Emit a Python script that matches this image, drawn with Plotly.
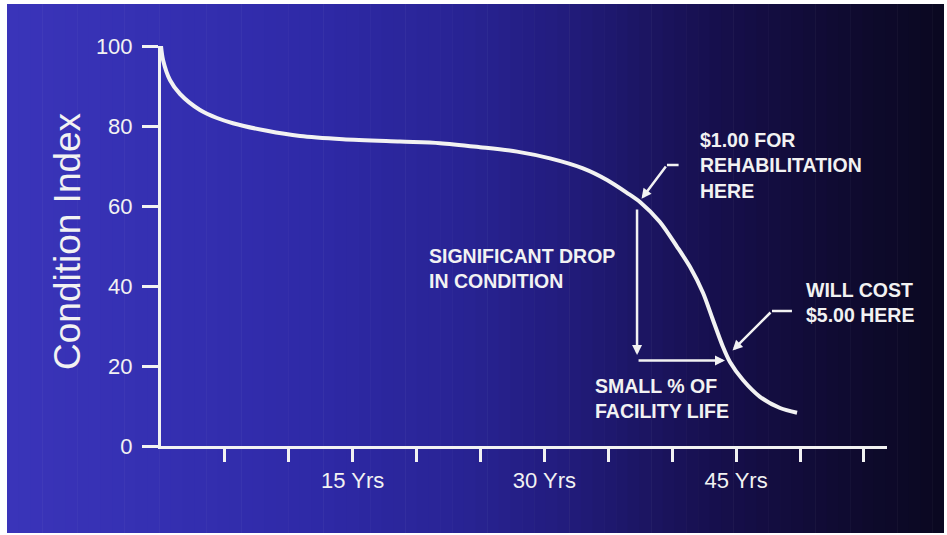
import plotly.graph_objects as go

# ---- data ----
years = [0.0, 0.16, 0.70, 1.49, 3.05, 4.38, 5.63, 8.29, 10.88, 14.24, 18.70, 21.83,
         24.96, 27.86, 30.44, 33.02, 34.90, 36.46, 37.48, 39.04, 40.38, 41.39, 42.41,
         43.19, 43.97, 44.52, 45.54, 46.87, 48.44, 49.77]
condition = [100.0, 96.5, 91.5, 88.0, 84.0, 82.0, 80.7, 78.8, 77.5, 76.7, 76.1, 75.7,
             74.7, 73.6, 71.9, 69.4, 66.5, 63.3, 61.0, 56.0, 49.8, 44.8, 38.3,
             31.5, 24.8, 21.0, 16.5, 12.3, 9.5, 8.3]

x_tick_vals = [5, 10, 15, 20, 25, 30, 35, 40, 45, 50, 55]
x_tick_text = ["", "", "15 Yrs", "", "", "30 Yrs", "", "", "45 Yrs", "", ""]
y_tick_vals = [0, 20, 40, 60, 80, 100]
y_tick_text = ["0", "20", "40", "60", "80", "100"]

# ---- layout geometry (pixels) ----
W, H = 947, 535
ML, MR, MT, MB = 161, 60, 46, 89
PW, PH = W - ML - MR, H - MT - MB

def px_to_paper_x(px):
    return (px - ML) / PW

def px_to_paper_y(py):
    return (H - MB - py) / PH

WHITE = "#f2f2f2"
FONT = "Liberation Sans"

fig = go.Figure()
fig.add_trace(go.Scatter(
    x=years, y=condition, mode="lines",
    line=dict(color=WHITE, width=4, shape="spline", smoothing=0.8),
    hoverinfo="skip", showlegend=False,
))

# ---- gradient background as thin strips ----
stops = [(7, (58, 52, 185)), (150, (53, 48, 178)), (300, (47, 42, 168)),
         (450, (41, 36, 150)), (560, (34, 28, 126)), (640, (28, 21, 100)),
         (720, (22, 15, 76)), (800, (18, 12, 58)), (870, (14, 10, 44)),
         (944, (10, 8, 32))]

def color_at(px):
    for (a, ca), (b, cb) in zip(stops[:-1], stops[1:]):
        if a <= px <= b:
            t = (px - a) / (b - a)
            return tuple(round(ca[i] + (cb[i] - ca[i]) * t) for i in range(3))
    return stops[-1][1]

shapes = []
n = 80
x_left, x_right = 7, 944
step = (x_right - x_left) / n
for i in range(n):
    p0 = x_left + i * step
    p1 = p0 + step + 0.6
    c = color_at(p0 + step / 2)
    shapes.append(dict(
        type="rect", xref="paper", yref="paper",
        x0=px_to_paper_x(p0), x1=px_to_paper_x(min(p1, x_right)),
        y0=px_to_paper_y(533), y1=px_to_paper_y(4),
        line=dict(width=0), fillcolor=f"rgb{c}", layer="below",
    ))

# pointer elbows
shapes.append(dict(type="line", xref="x", yref="y", x0=39.59, x1=40.50, y0=70.25, y1=70.25,
                   line=dict(color=WHITE, width=2.5)))
shapes.append(dict(type="line", xref="x", yref="y", x0=47.81, x1=49.37, y0=33.75, y1=33.75,
                   line=dict(color=WHITE, width=2.5)))

ann_font = dict(family=FONT, size=19.5, color=WHITE)
annotations = [
    dict(text="Condition Index", xref="paper", yref="paper",
         x=px_to_paper_x(67), y=px_to_paper_y(241), textangle=-90,
         xanchor="center", yanchor="middle", showarrow=False,
         font=dict(family=FONT, size=37, color=WHITE)),
    dict(text="<b>$1.00 FOR<br>REHABILITATION<br>HERE</b>", x=42.0, y=70.25,
         xanchor="left", yanchor="middle", align="left", showarrow=False, font=ann_font),
    dict(text="<b>SIGNIFICANT DROP<br>IN CONDITION</b>", x=20.81, y=44.4,
         xanchor="left", yanchor="middle", align="left", showarrow=False, font=ann_font),
    dict(text="<b>SMALL % OF<br>FACILITY LIFE</b>", x=33.8, y=12.0,
         xanchor="left", yanchor="middle", align="left", showarrow=False, font=ann_font),
    dict(text="<b>WILL COST<br>$5.00 HERE</b>", x=50.31, y=36.0,
         xanchor="left", yanchor="middle", align="left", showarrow=False, font=ann_font),
]
arrow_common = dict(text="", showarrow=True, axref="x", ayref="y",
                    arrowcolor=WHITE, arrowwidth=2.5, arrowhead=2, arrowsize=0.8)
annotations += [
    dict(x=37.25, y=22.75, ax=37.25, ay=59.5, **arrow_common),
    dict(x=44.13, y=21.4, ax=37.25, ay=21.4, **arrow_common),
    dict(x=37.6, y=61.8, ax=39.59, ay=70.25, **arrow_common),
    dict(x=44.72, y=23.9, ax=47.81, ay=33.75, **arrow_common),
]

fig.update_layout(
    width=W, height=H,
    margin=dict(l=ML, r=MR, t=MT, b=MB, pad=0),
    paper_bgcolor="white", plot_bgcolor="rgba(0,0,0,0)",
    shapes=shapes, annotations=annotations, showlegend=False,
    xaxis=dict(range=[0, PW / 12.78], showgrid=False, zeroline=False,
               showline=True, linecolor=WHITE, linewidth=3,
               ticks="outside", ticklen=13, tickwidth=2.5, tickcolor=WHITE,
               tickvals=x_tick_vals, ticktext=x_tick_text, ticklabelstandoff=0,
               tickfont=dict(family=FONT, size=22, color=WHITE)),
    yaxis=dict(range=[0, 100], showgrid=False, zeroline=False,
               showline=True, linecolor=WHITE, linewidth=3,
               ticks="outside", ticklen=16, tickwidth=2.5, tickcolor=WHITE,
               tickvals=y_tick_vals, ticktext=y_tick_text, ticklabelstandoff=5,
               tickfont=dict(family=FONT, size=22, color=WHITE)),
)

fig.write_html("out.html", config={"displayModeBar": False},
               post_script="document.body.style.margin='0px';")
